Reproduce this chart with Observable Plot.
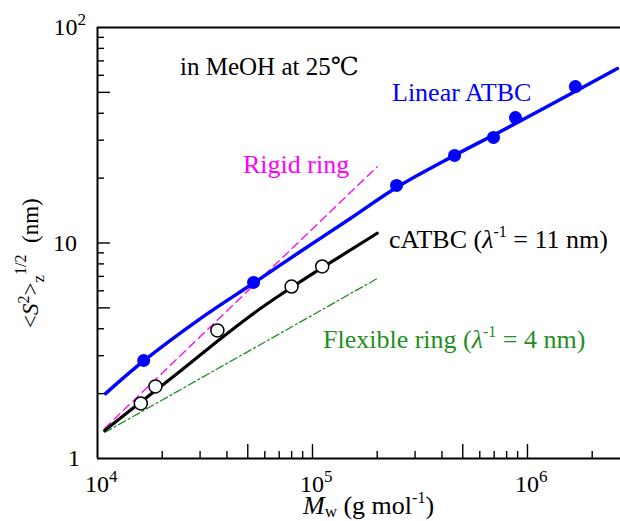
<!DOCTYPE html>
<html><head><meta charset="utf-8">
<script src="https://cdn.jsdelivr.net/npm/d3@7"></script>
<script src="https://cdn.jsdelivr.net/npm/@observablehq/plot@0.6"></script>
<style>html,body{margin:0;padding:0;background:#fff} #chart svg{display:block} .rt{font-family:"Liberation Serif","DejaVu Serif",serif !important}</style>
</head><body><div id="chart"></div>
<script>
// ---- data ----
const linearCurveM = [1.09e4, 1.65e4, 3.01e4, 5.37e4, 8.79e4, 1.50e5, 2.46e5, 4.58e5, 7.49e5, 1.42e6, 2.62e6];
const linearCurveS = [2.00, 2.85, 4.46, 6.56, 9.13, 13.0, 18.1, 25.5, 32.9, 46.3, 64.5];
const linearPointM = [1.64e4, 5.32e4, 2.46e5, 4.58e5, 6.95e5, 8.79e5, 1.67e6];
const linearPointS = [2.85, 6.56, 18.5, 25.5, 30.9, 38.2, 53.2];
const cyclicCurveM = [1.08e4, 1.59e4, 2.43e4, 3.61e4, 5.15e4, 7.10e4, 1.11e5, 2.0e5];
const cyclicCurveS = [1.35, 1.83, 2.55, 3.50, 4.60, 5.75, 7.68, 11.1];
const cyclicPointM = [1.59e4, 1.86e4, 3.61e4, 7.99e4, 1.11e5];
const cyclicPointS = [1.80, 2.16, 3.93, 6.28, 7.78];
const rigidRingM = [1.08e4, 2.0e5];
const rigidRingS = [1.38, 22.6];
const flexRingM = [1.08e4, 2.0e5];
const flexRingS = [1.32, 6.84];
const xTickValues = [2e4,3e4,4e4,5e4,6e4,7e4,8e4,9e4,1e5,2e5,3e5,4e5,5e5,6e5,7e5,8e5,9e5,1e6,2e6];
const yTickValues = [2,3,4,5,6,7,8,9,10,20,30,40,50,60,70,80,90];
const xTickLabels = [{v:1e4, base:"10", sup:"4"}, {v:1e5, base:"10", sup:"5"}, {v:1e6, base:"10", sup:"6"}];
const yTickLabels = [{v:1, base:"1", sup:""}, {v:10, base:"10", sup:""}, {v:100, base:"10", sup:"2"}];

const zip = (M, S) => M.map((m, i) => ({M: m, S: S[i]}));
const isLong = v => { const m = Math.round(v / Math.pow(10, Math.floor(Math.log10(v) + 1e-9))); return m === 1 || m === 5; };

const W = 620, H = 521, mL = 97, mR = 0, mT = 27, mB = 63;
const innerW = W - mL - mR, innerH = H - mT - mB;

const plot = Plot.plot({
  width: W, height: H,
  marginLeft: mL, marginRight: mR, marginTop: mT, marginBottom: mB,
  x: {type: "log", domain: [1e4, 2.708e6], axis: null},
  y: {type: "log", domain: [1, 100], axis: null},
  style: {background: "white", overflow: "visible"},
  marks: [
    Plot.tickX(xTickValues.filter(isLong), {x: d => d, stroke: "black", strokeWidth: 1.4, insetTop: innerH - 14}),
    Plot.tickX(xTickValues.filter(v => !isLong(v)), {x: d => d, stroke: "black", strokeWidth: 1.4, insetTop: innerH - 7}),
    Plot.tickY(yTickValues.filter(isLong), {y: d => d, stroke: "black", strokeWidth: 1.4, insetRight: innerW - 13}),
    Plot.tickY(yTickValues.filter(v => !isLong(v)), {y: d => d, stroke: "black", strokeWidth: 1.4, insetRight: innerW - 7}),
    Plot.ruleY([1], {stroke: "black", strokeWidth: 2}),
    Plot.ruleY([100], {stroke: "black", strokeWidth: 2}),
    Plot.ruleX([1e4], {stroke: "black", strokeWidth: 2}),
    Plot.line(zip(rigidRingM, rigidRingS), {x: "M", y: "S", stroke: "#ff00ff", strokeWidth: 1.3, strokeDasharray: "8,5"}),
    Plot.line(zip(flexRingM, flexRingS), {x: "M", y: "S", stroke: "#1f8f1f", strokeWidth: 1.3, strokeDasharray: "8,3,2,3"}),
    Plot.line(zip(cyclicCurveM, cyclicCurveS), {x: "M", y: "S", stroke: "black", strokeWidth: 3.2, curve: "natural"}),
    Plot.line(zip(linearCurveM, linearCurveS), {x: "M", y: "S", stroke: "#0000ff", strokeWidth: 3.5, curve: "catmull-rom"}),
    Plot.dot(zip(linearPointM, linearPointS), {x: "M", y: "S", r: 6.5, fill: "#0000ff", stroke: "none"}),
    Plot.dot(zip(cyclicPointM, cyclicPointS), {x: "M", y: "S", r: 6.5, fill: "white", stroke: "black", strokeWidth: 1.5})
  ]
});
document.getElementById("chart").appendChild(plot);

// ---- rich text (sub/superscripts) ----
const svg = d3.select(plot);
const X = plot.scale("x"), Y = plot.scale("y");
const FONT = '"Liberation Serif", "DejaVu Serif", serif';
function rich(x, y, parts, {size = 26, fill = "black", anchor = "start", rotate = 0} = {}) {
  const t = svg.append("text")
    .attr("class", "rt")
    .attr("transform", `translate(${x},${y}) rotate(${rotate})`)
    .style("font-family", FONT).style("font-size", size + "px").attr("fill", fill)
    .attr("text-anchor", anchor);
  let cur = 0;
  for (const p of parts) {
    const shift = p.shift || 0;
    const ts = t.append("tspan").text(p.t).attr("dy", shift - cur);
    cur = shift;
    if (p.italic) ts.style("font-style", "italic");
    if (p.size) ts.style("font-size", p.size + "px");
  }
  return t;
}
for (const d of xTickLabels) {
  rich(X.apply(d.v) - 12, 492, [{t: d.base}, {t: d.sup, shift: -10, size: 17}], {size: 24});
}
for (const d of yTickLabels) {
  const parts = [{t: d.base}];
  if (d.sup) parts.push({t: d.sup, shift: -10, size: 17});
  rich(d.sup ? 86 : (d.v === 1 ? 80 : 77), Y.apply(d.v) + 8, parts, {size: 24, anchor: "end"});
}
rich(303, 514, [{t: "M", italic: true}, {t: "w", shift: 3, size: 17}, {t: " (g mol", shift: 0}, {t: "-1", shift: -11, size: 16}, {t: ")", shift: 0}], {size: 26});
rich(38, 328, [{t: "<"}, {t: "S", italic: true}, {t: "2", shift: -9, size: 16}, {t: ">", shift: 0}, {t: "z", shift: 6, size: 17}, {t: "1/2", shift: -12, size: 16}, {t: "  (nm)", shift: 0}], {size: 23, rotate: -90});
rich(180, 75, [{t: "in MeOH at 25℃"}], {size: 25});
rich(392, 101, [{t: "Linear ATBC"}], {size: 26, fill: "#0000ff"});
rich(243, 173, [{t: "Rigid ring"}], {size: 26, fill: "#ff00ff"});
rich(389, 248, [{t: "cATBC ("}, {t: "λ", italic: true}, {t: "-1", shift: -11, size: 16}, {t: " = 11 nm)", shift: 0}], {size: 26});
rich(323, 348, [{t: "Flexible ring ("}, {t: "λ", italic: true}, {t: "-1", shift: -11, size: 16}, {t: " = 4 nm)", shift: 0}], {size: 26, fill: "#1f8f1f"});
</script>
</body></html>
